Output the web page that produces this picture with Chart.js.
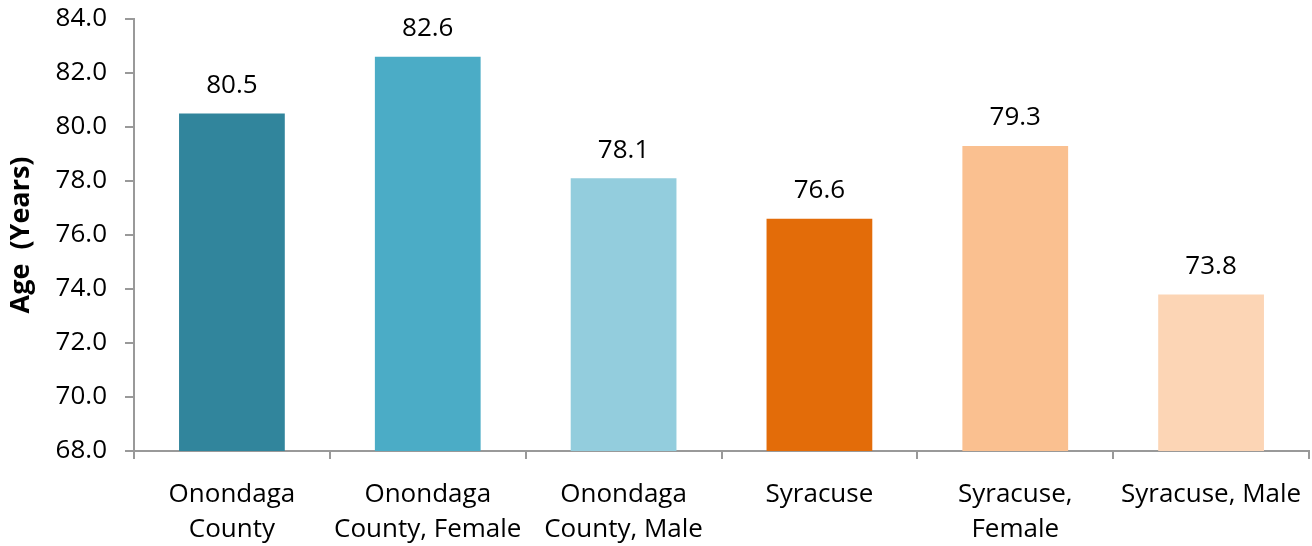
<!DOCTYPE html>
<html>
<head>
<meta charset="utf-8">
<script src="https://cdn.jsdelivr.net/npm/chart.js@4"></script>
<style>
  html, body { margin: 0; padding: 0; background: #ffffff; }
  #wrap { width: 1312px; height: 546px; position: relative; }
</style>
</head>
<body>
<div id="wrap"><canvas id="c" width="1312" height="546"></canvas></div>
<script>
const categories = [
  ["Onondaga", "County"],
  ["Onondaga", "County, Female"],
  ["Onondaga", "County, Male"],
  ["Syracuse"],
  ["Syracuse,", "Female"],
  ["Syracuse, Male"]
];
const lifeExpectancy = [80.5, 82.6, 78.1, 76.6, 79.3, 73.8];
const barColors = ["#31859C", "#4BACC6", "#93CDDD", "#E36C09", "#FAC090", "#FCD5B5"];
const yMin = 68, yMax = 84, yStep = 2;
const yTitle = "Age  (Years)";

const FONT = "'Open Sans', 'Noto Sans', sans-serif";

const valueLabels = {
  id: "valueLabels",
  afterDatasetsDraw(chart) {
    const ctx = chart.ctx;
    const meta = chart.getDatasetMeta(0);
    ctx.save();
    ctx.font = "26px " + FONT;
    ctx.fillStyle = "#000";
    ctx.textAlign = "center";
    ctx.textBaseline = "middle";
    meta.data.forEach((bar, i) => {
      ctx.fillText(lifeExpectancy[i].toFixed(1), bar.x, bar.y - 28);
    });
    ctx.restore();
  }
};

new Chart(document.getElementById("c"), {
  type: "bar",
  data: {
    labels: categories,
    datasets: [{
      data: lifeExpectancy,
      backgroundColor: barColors,
      borderWidth: 0,
      categoryPercentage: 1.0,
      barPercentage: 0.54
    }]
  },
  options: {
    responsive: false,
    animation: false,
    events: [],
    layout: { padding: { top: 19, right: 3, left: 0, bottom: 0 } },
    plugins: { legend: { display: false }, tooltip: { enabled: false } },
    scales: {
      x: {
        grid: { display: true, drawOnChartArea: false, drawTicks: true, tickLength: 8, color: "#999999", lineWidth: 2, offset: true },
        border: { display: true, color: "#999999", width: 2 },
        ticks: { color: "#000", font: { family: FONT, size: 26, lineHeight: 1.35 }, padding: 18, maxRotation: 0, autoSkip: false },
        afterFit(scale) { scale.height = 95; scale.paddingLeft = 0; scale.paddingRight = 0; }
      },
      y: {
        min: yMin, max: yMax,
        grid: { display: true, drawOnChartArea: false, drawTicks: true, tickLength: 9, color: "#999999", lineWidth: 2 },
        border: { display: true, color: "#999999", width: 2 },
        ticks: {
          stepSize: yStep, color: "#000", padding: 18,
          font: { family: FONT, size: 26 },
          callback: v => v.toFixed(1)
        },
        title: { display: true, text: yTitle, color: "#000", font: { family: FONT, size: 27, weight: "bold" }, padding: { top: 5, bottom: 0 } },
        afterFit(scale) { scale.width = 134; scale.paddingTop = 0; scale.paddingBottom = 0; }
      }
    }
  },
  plugins: [valueLabels]
});
</script>
</body>
</html>
